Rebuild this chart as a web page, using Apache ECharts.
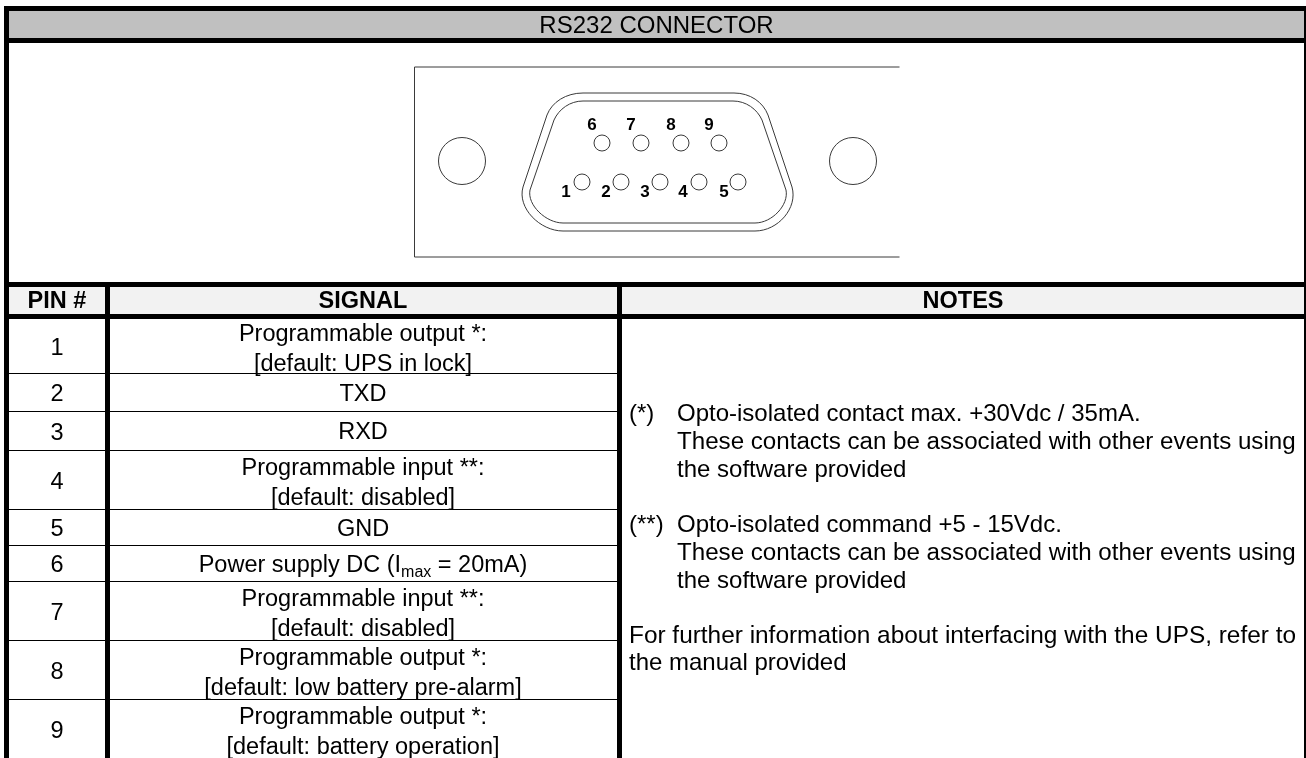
<!DOCTYPE html>
<html><head><meta charset="utf-8">
<style>html,body{margin:0;padding:0;background:#fff}#c{width:1306px;height:758px}</style>
<script src="https://cdn.jsdelivr.net/npm/echarts@6/dist/echarts.min.js"></script>
</head><body><div id="c"></div>
<script>
// ---- data ----
const title = 'RS232 CONNECTOR';
const headers = ['PIN #', 'SIGNAL', 'NOTES'];
const pins = ['1','2','3','4','5','6','7','8','9'];
const signals = [
  'Programmable output *:\n[default: UPS in lock]',
  'TXD',
  'RXD',
  'Programmable input **:\n[default: disabled]',
  'GND',
  'Power supply DC (I{sub|max} = 20mA)',
  'Programmable input **:\n[default: disabled]',
  'Programmable output *:\n[default: low battery pre-alarm]',
  'Programmable output *:\n[default: battery operation]'
];
const noteLines = [
  '(*)', 'Opto-isolated contact max. +30Vdc / 35mA.',
  'These contacts can be associated with other events using',
  'the software provided',
  '(**)', 'Opto-isolated command +5 - 15Vdc.',
  'These contacts can be associated with other events using',
  'the software provided',
  'For further information about interfacing with the UPS, refer to',
  'the manual provided'
];
// ---- layout (pixels on hidden 1:1 axes) ----
const FONT = '"Liberation Sans", Arial, sans-serif';
const FS = 23.5, FN = 24;
const rowEdges = [319,373,411,450,509,545,581,640,699,758];
const col = {l:4, a:105, b:110, c:617, d:622, r:1304, W:1306};
const noteY = [414.5,414.5,442.5,470.5,525.5,525.5,553.5,581.5,636.5,663.5];
const noteX = [629,677,677,677,629,677,677,677,629,629];
const noteFS = [FN,FN,24.15,FN,FN,FN,24.15,FN,24.4,FN];
const pinLabelPos = {
  '1':[566,192],'2':[606,192],'3':[645,192],'4':[683,192],'5':[724,192],
  '6':[592,125],'7':[631,125],'8':[671,125],'9':[709,125]};
const pinPos = {
  '1':[582,182],'2':[621,182],'3':[660,182],'4':[699,182],'5':[738,182],
  '6':[602,143],'7':[641,143],'8':[681,143],'9':[719,143]};

function rect(x,y,w,h,fill){return {type:'rect',shape:{x,y,width:w,height:h},style:{fill}};}
function txt(x,y,text,o){o=o||{};return {type:'text',x,y,style:Object.assign({text,fill:'#000',font:(o.bold?'bold ':'')+(o.size||FS)+'px '+FONT,
  align:o.align||'center',verticalAlign:'middle',lineHeight:o.lh||30},
  o.rich?{rich:o.rich}:{})};}

function frame(){
  const k=[];
  k.push(rect(0,0,col.W,758,'#fff'));
  k.push(rect(col.l,11,col.r-col.l,27,'#c0c0c0'));
  k.push(rect(col.l,287,col.r-col.l,27,'#f2f2f2'));
  k.push(rect(col.l,6,col.W-col.l,5,'#000'));
  k.push(rect(col.l,38,col.W-col.l,5,'#000'));
  k.push(rect(col.l,282,col.W-col.l,5,'#000'));
  k.push(rect(col.l,314,col.W-col.l,5,'#000'));
  k.push(rect(col.l,6,5,752,'#000'));
  k.push(rect(col.r,6,2,752,'#000'));
  k.push(rect(col.a,282,5,476,'#000'));
  k.push(rect(col.c,282,5,476,'#000'));
  k.push(txt(656.5,26,title,{size:FN}));
  k.push(txt(57,302,headers[0],{bold:true}));
  k.push(txt(363,302,headers[1],{bold:true}));
  k.push(txt(963,302,headers[2],{bold:true}));
  noteLines.forEach((t,i)=>k.push(txt(noteX[i],noteY[i],t,{align:'left',size:noteFS[i]})));
  return {type:'group',children:k};
}
function connector(){
  const s='#3a3a3a';
  const ln=(d)=>({type:'path',shape:{pathData:d},style:{fill:'none',stroke:s,lineWidth:1}});
  const k=[];
  k.push(ln('M899.5 67 H414.5 V257 H899.5'));
  k.push({type:'circle',shape:{cx:462,cy:161,r:23.5},style:{fill:'none',stroke:s,lineWidth:1}});
  k.push({type:'circle',shape:{cx:853,cy:161,r:23.5},style:{fill:'none',stroke:s,lineWidth:1}});
  k.push(ln('M583 93 H734 C750 93 763 102 768 115 L792 187 C798 208 778 231 755 231 H563 C540 231 517 208 523 187 L547 115 C552 102 566 93 583 93 Z'));
  k.push(ln('M583 101 H733 C746 101 757 109 762 120 L786 190 C789 205 772 223 755 223 H563 C546 223 527 205 530 190 L554 120 C559 109 570 101 583 101 Z'));
  return {type:'group',children:k};
}
const chart = echarts.init(document.getElementById('c'),null,{renderer:'canvas'});
const hidden = {show:false,min:0,splitLine:{show:false}};
chart.setOption({
  animation:false,
  grid:{left:0,right:0,top:0,bottom:0},
  xAxis:Object.assign({type:'value',max:1306},hidden),
  yAxis:Object.assign({type:'value',max:758,inverse:true},hidden),
  series:[
    {type:'custom',name:'frame',data:[[0,0]],silent:true,z:1,
     renderItem:()=>frame()},
    {type:'custom',name:'rows',silent:true,z:2,
     data:pins.map((p,i)=>[i]),
     renderItem:(params,api)=>{
       const i=api.value(0), top=rowEdges[i], bot=rowEdges[i+1], mid=(top+bot)/2;
       const two=signals[i].indexOf('\n')>=0;
       const k=[txt(57,mid+3,pins[i]),
         txt(363,mid+(two?4:2.5),signals[i],{rich:{sub:{fontSize:16,verticalAlign:'bottom',padding:[6,0,0,0],fill:'#000',fontFamily:FONT}}})];
       if(i<pins.length-1){
         k.push(rect(9,bot,col.a-9,1,'#000'));
         k.push(rect(col.b,bot,col.c-col.b,1,'#000'));
       }
       return {type:'group',children:k};
     }},
    {type:'custom',name:'shell',data:[[0,0]],silent:true,z:2,renderItem:()=>connector()},
    {type:'custom',name:'pins',silent:true,z:3,
     data:pins.map((p,i)=>[i]),
     renderItem:(params,api)=>{
       const p=pins[api.value(0)], c=pinPos[p], l=pinLabelPos[p];
       return {type:'group',children:[
         {type:'circle',shape:{cx:c[0],cy:c[1],r:8},style:{fill:'none',stroke:'#3a3a3a',lineWidth:1}},
         txt(l[0],l[1],p,{bold:true,size:17})
       ]};
     }}
  ]
});
</script></body></html>
